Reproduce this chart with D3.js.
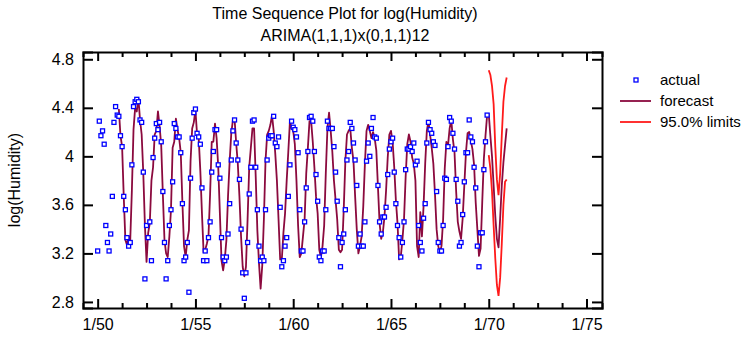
<!DOCTYPE html>
<html>
<head>
<meta charset="utf-8">
<script src="https://cdn.jsdelivr.net/npm/d3@7"></script>
<style>
  body { margin: 0; background: #fff; }
  svg text { font-family: "Liberation Sans", Arial, sans-serif; fill: #000; }
</style>
</head>
<body>
<div id="container"></div>
<script>
// monthly log(Humidity), 1/50 .. 12/69 (month index 0..239)
const actualValues = [
  3.22, 4.29, 4.17, 4.21, 4.10, 3.43, 3.29, 3.22, 3.36, 3.67, 4.28, 4.41,
  4.34, 4.33, 4.17, 4.08, 3.67, 3.56, 3.33, 3.26, 3.29, 3.93, 4.41, 4.45,
  4.47, 4.45, 4.30, 4.28, 3.87, 2.99, 3.43, 3.33, 3.46, 3.14, 3.99, 4.15,
  4.27, 4.22, 4.28, 4.12, 3.71, 3.29, 2.99, 3.14, 3.43, 3.56, 3.79, 4.27,
  4.23, 4.16, 4.16, 4.03, 3.61, 3.14, 3.17, 3.29, 2.88, 3.82, 4.15, 4.36,
  4.39, 4.19, 4.16, 4.10, 3.74, 3.14, 3.22, 3.14, 3.33, 3.46, 3.87, 4.04,
  4.22, 4.22, 3.93, 3.82, 3.33, 3.17, 3.14, 3.17, 3.36, 3.61, 3.97, 4.21,
  4.30, 4.11, 3.97, 3.81, 3.40, 3.04, 2.83, 3.04, 3.29, 3.69, 3.91, 4.29,
  4.30, 3.91, 3.56, 3.26, 3.14, 3.17, 3.14, 3.56, 3.97, 4.15, 4.17, 4.17,
  4.33, 4.11, 4.08, 4.16, 3.58, 3.09, 3.14, 3.26, 3.33, 3.67, 3.93, 4.29,
  4.24, 4.22, 4.16, 4.03, 3.56, 3.22, 3.22, 3.46, 3.74, 4.04, 4.32, 4.33,
  4.29, 4.04, 3.85, 3.63, 3.17, 3.14, 3.22, 3.22, 3.56, 4.29, 4.23, 4.23,
  4.23, 4.08, 3.87, 3.63, 3.33, 3.09, 3.29, 3.36, 3.56, 3.97, 4.04, 4.28,
  4.23, 4.11, 3.97, 3.76, 3.26, 3.36, 3.26, 3.26, 3.46, 3.96, 4.11, 4.00,
  4.23, 4.32, 4.16, 4.15, 3.76, 3.46, 3.36, 3.50, 3.50, 3.58, 3.85, 4.06,
  4.12, 4.15, 3.87, 3.61, 3.43, 3.33, 3.17, 3.29, 3.46, 3.89, 4.06, 4.06,
  4.08, 4.04, 4.11, 3.93, 3.96, 3.43, 3.29, 3.22, 3.49, 3.61, 4.11, 4.28,
  4.22, 4.19, 4.12, 4.09, 3.71, 3.29, 3.22, 3.22, 3.43, 3.82, 3.81, 4.08,
  4.32, 4.29, 4.19, 4.06, 3.81, 3.63, 3.26, 3.29, 3.52, 3.79, 4.03, 4.03,
  4.30, 4.16, 4.12, 3.91, 3.74, 3.26, 3.09, 3.37, 3.37, 3.89, 4.12, 4.34
];

// one-step-ahead fitted values, month 13 .. 239
const fitStart = 13;
const fittedValues = [
                    4.39, 4.17, 4.08, 3.67, 3.31, 3.27, 3.34, 3.31, 3.72, 4.22, 4.40,
  4.37, 4.48, 4.30, 4.18, 3.86, 3.43, 3.13, 3.37, 3.45, 3.80, 3.91, 4.18,
  4.21, 4.37, 4.25, 4.09, 3.69, 3.31, 3.20, 3.17, 3.34, 3.56, 4.07, 4.12,
  4.31, 4.22, 4.15, 4.03, 3.62, 3.26, 3.17, 3.31, 3.39, 3.96, 4.23, 4.28,
  4.38, 4.18, 4.15, 3.88, 3.53, 3.21, 3.23, 3.28, 3.34, 3.69, 4.12, 4.12,
  4.27, 4.15, 3.91, 3.53, 3.14, 3.06, 3.15, 3.31, 3.67, 3.96, 4.19, 4.30,
  4.31, 4.11, 3.94, 3.67, 3.34, 3.09, 3.01, 3.09, 3.48, 3.91, 4.07, 4.23,
  4.23, 3.83, 3.39, 3.12, 2.91, 3.10, 3.48, 3.96, 4.18, 4.21, 4.26, 4.34,
  4.21, 4.02, 3.80, 3.48, 3.15, 3.15, 3.37, 3.53, 3.80, 4.04, 4.29, 4.23,
  4.21, 4.10, 3.80, 3.43, 3.17, 3.20, 3.34, 3.48, 3.86, 4.07, 4.29, 4.29,
  4.12, 3.91, 3.67, 3.53, 3.23, 3.17, 3.26, 3.43, 3.86, 4.23, 4.36, 4.21,
  4.04, 3.80, 3.64, 3.48, 3.23, 3.21, 3.23, 3.56, 3.96, 4.18, 4.21, 4.23,
  4.07, 3.96, 3.67, 3.40, 3.20, 3.26, 3.34, 3.59, 3.94, 4.21, 4.26, 4.21,
  4.15, 4.20, 4.15, 4.05, 3.75, 3.45, 3.32, 3.37, 3.50, 3.72, 3.99, 4.18,
  4.21, 4.12, 3.91, 3.64, 3.45, 3.15, 3.17, 3.31, 3.48, 3.83, 4.10, 4.18,
  4.12, 3.99, 3.94, 3.80, 3.26, 3.17, 3.54, 3.34, 3.59, 3.94, 4.21, 4.29,
  4.18, 4.07, 3.94, 3.69, 3.40, 3.26, 3.21, 3.26, 3.48, 3.90, 4.12, 4.09,
  4.23, 4.30, 4.14, 4.03, 3.71, 3.46, 3.38, 3.32, 3.49, 3.76, 4.03, 4.19,
  4.20, 4.13, 4.06, 3.93, 3.62, 3.40, 3.18, 3.24, 3.62, 3.98, 4.17, 4.34
];

// forecasts, month 240 .. 251
const forecastStart = 240;
const forecastValues = [4.35, 4.17, 4.00, 3.76, 3.51, 3.32, 3.25, 3.49, 3.76, 3.95, 4.09, 4.23];
const upperLimits   = [4.71, 4.67, 4.58, 4.43, 4.08, 3.81, 3.68, 3.86, 4.17, 4.45, 4.58, 4.65];
const lowerLimits   = [4.01, 3.90, 3.71, 3.43, 3.16, 2.94, 2.85, 3.00, 3.28, 3.60, 3.79, 3.81];

const yTicks = [2.8, 3.2, 3.6, 4.0, 4.4, 4.8];
const yTickLabels = ["2.8", "3.2", "3.6", "4", "4.4", "4.8"];
const xTickMonths = [0, 60, 120, 180, 240, 300];
const xTickLabels = ["1/50", "1/55", "1/60", "1/65", "1/70", "1/75"];
const legendLabels = ["actual", "forecast", "95.0% limits"];

const W = 750, H = 337;
const plot = {left: 83, right: 602, top: 52, bottom: 308};

const svg = d3.select("#container").append("svg")
  .attr("width", W).attr("height", H);

svg.append("rect").attr("width", W).attr("height", H).attr("fill", "#fff");

const x = d3.scaleLinear().domain([-9, 309.5]).range([plot.left, plot.right]);
const y = d3.scaleLinear().domain([2.75, 4.86]).range([plot.bottom, plot.top]);

// titles
svg.append("text").attr("x", 345).attr("y", 19).attr("text-anchor", "middle")
  .style("font-size", "16px").text("Time Sequence Plot for log(Humidity)");
svg.append("text").attr("x", 345).attr("y", 41).attr("text-anchor", "middle")
  .style("font-size", "16px").text("ARIMA(1,1,1)x(0,1,1)12");

svg.append("text")
  .attr("transform", `translate(20,${(plot.top + plot.bottom) / 2}) rotate(-90)`)
  .attr("text-anchor", "middle")
  .style("font-size", "16px").text("log(Humidity)");

// axes: ticks point inward on all four sides
const minorMonths = d3.range(0, 301, 15);

const bottomAxis = svg.append("g").attr("transform", `translate(0,${plot.bottom})`)
  .call(d3.axisBottom(x).tickValues(minorMonths).tickSize(-5).tickFormat(""));
bottomAxis.selectAll(".tick line").filter(d => d % 60 === 0).attr("y2", -9);

svg.append("g").attr("transform", `translate(0,${plot.bottom})`)
  .call(d3.axisBottom(x).tickValues(xTickMonths).tickSize(0).tickPadding(11)
    .tickFormat((d, i) => xTickLabels[i]))
  .call(g => g.select(".domain").remove())
  .selectAll("text").style("font-size", "16px");

const topAxis = svg.append("g").attr("transform", `translate(0,${plot.top})`)
  .call(d3.axisTop(x).tickValues(minorMonths).tickSize(-5).tickFormat(""));
topAxis.selectAll(".tick line").filter(d => d % 60 === 0).attr("y2", 9);

svg.append("g").attr("transform", `translate(${plot.left},0)`)
  .call(d3.axisLeft(y).tickValues(yTicks).tickSize(-10).tickPadding(9)
    .tickFormat((d, i) => yTickLabels[i]))
  .selectAll("text").style("font-size", "16px");

svg.append("g").attr("transform", `translate(${plot.right},0)`)
  .call(d3.axisRight(y).tickValues(yTicks).tickSize(-10).tickFormat(""));

svg.selectAll(".domain").attr("stroke", "#000").attr("stroke-width", 2);
svg.selectAll(".tick line").attr("stroke", "#000").attr("stroke-width", 2);

// lines
const line = d3.line().x(d => x(d.m)).y(d => y(d.v));

const fitSeries = fittedValues.map((v, i) => ({m: fitStart + i, v}))
  .concat(forecastValues.map((v, i) => ({m: forecastStart + i, v})));
const upperSeries = upperLimits.map((v, i) => ({m: forecastStart + i, v}));
const lowerSeries = lowerLimits.map((v, i) => ({m: forecastStart + i, v}));

const forecastColor = "#8b0a3e";
const limitColor = "#ff1a1a";

[upperSeries, lowerSeries].forEach(s => {
  svg.append("path").datum(s).attr("d", line)
    .attr("fill", "none").attr("stroke", limitColor).attr("stroke-width", 1.8);
});

svg.append("path").datum(fitSeries).attr("d", line)
  .attr("fill", "none").attr("stroke", forecastColor).attr("stroke-width", 1.8)
  .attr("stroke-linejoin", "round");

// actual points
svg.append("g").selectAll("rect")
  .data(actualValues)
  .enter().append("rect")
  .attr("x", (d, i) => x(i) - 2)
  .attr("y", d => y(d) - 2)
  .attr("width", 4).attr("height", 4)
  .attr("fill", "#fff").attr("stroke", "#0000ff").attr("stroke-width", 1.3);

// legend
const legend = svg.append("g");
const legendY = [80, 101, 122];
legend.append("rect").attr("x", 634).attr("y", legendY[0] - 2)
  .attr("width", 4).attr("height", 4)
  .attr("fill", "#fff").attr("stroke", "#0000ff").attr("stroke-width", 1.3);
legend.append("line").attr("x1", 620).attr("x2", 651).attr("y1", legendY[1]).attr("y2", legendY[1])
  .attr("stroke", forecastColor).attr("stroke-width", 1.8);
legend.append("line").attr("x1", 620).attr("x2", 651).attr("y1", legendY[2]).attr("y2", legendY[2])
  .attr("stroke", limitColor).attr("stroke-width", 1.8);
legend.selectAll("text").data(legendLabels).enter().append("text")
  .attr("x", 660).attr("y", (d, i) => legendY[i] + 5)
  .style("font-size", "15px").text(d => d);
</script>
</body>
</html>
